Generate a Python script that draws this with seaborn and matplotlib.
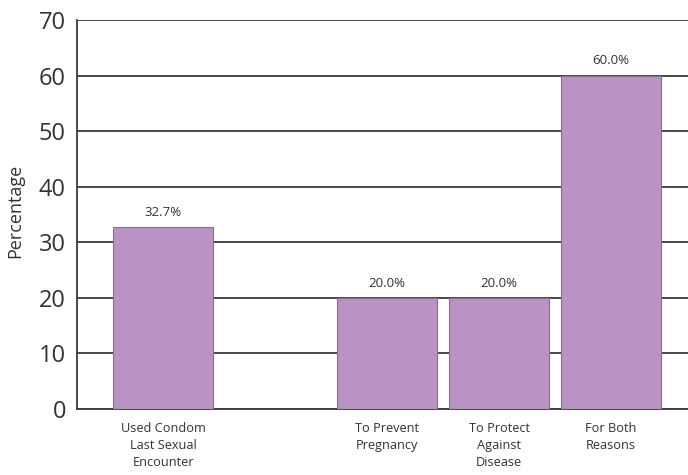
import matplotlib
matplotlib.use("Agg")
import matplotlib.pyplot as plt
import seaborn as sns
import pandas as pd

categories = ["Used Condom\nLast Sexual\nEncounter", "To Prevent\nPregnancy",
              "To Protect\nAgainst\nDisease", "For Both\nReasons"]
values = [32.7, 20.0, 20.0, 60.0]
value_labels = ["32.7%", "20.0%", "20.0%", "60.0%"]
spacer = " "
order = [categories[0], spacer] + categories[1:]
yticks = [0, 10, 20, 30, 40, 50, 60, 70]

sns.set_theme(style="white")
plt.rcParams['font.family'] = ['Open Sans', 'DejaVu Sans']

df = pd.DataFrame({"cat": categories, "val": values})

fig = plt.figure(figsize=(6.88, 4.75), dpi=100)
ax = fig.add_axes([77/688, 66/475, 1 - 77/688, (409-20)/475])

sns.barplot(data=df, x="cat", y="val", order=order, color="#b993c3",
            saturation=1, width=0.89, edgecolor="#7a7a7a", linewidth=0.8,
            ax=ax, zorder=3)

for cont in ax.containers:
    ax.bar_label(cont, labels=value_labels, padding=6, fontsize=9.5, color="#333333")

ax.set_ylim(0, 70)
ax.set_yticks(yticks)
ax.set_xlim(-0.768, 4.687)
ax.yaxis.grid(True, color="#3a3a3a", linewidth=1.3, zorder=0)
ax.set_axisbelow(True)
for s in ["top", "right"]:
    ax.spines[s].set_visible(False)
for s in ["left", "bottom"]:
    ax.spines[s].set_color("#3a3a3a")
    ax.spines[s].set_linewidth(1.3)
ax.tick_params(axis="y", length=0, pad=8, labelsize=17, labelcolor="#333333")
ax.tick_params(axis="x", length=0, pad=9, labelsize=9.2, labelcolor="#333333")
for lab in ax.get_xticklabels():
    lab.set_linespacing(1.45)
ax.set_xlabel("")
ax.set_ylabel("Percentage", fontsize=13, color="#333333")
ax.yaxis.set_label_coords(-0.087, 0.51)

fig.savefig("out.png", dpi=100)
